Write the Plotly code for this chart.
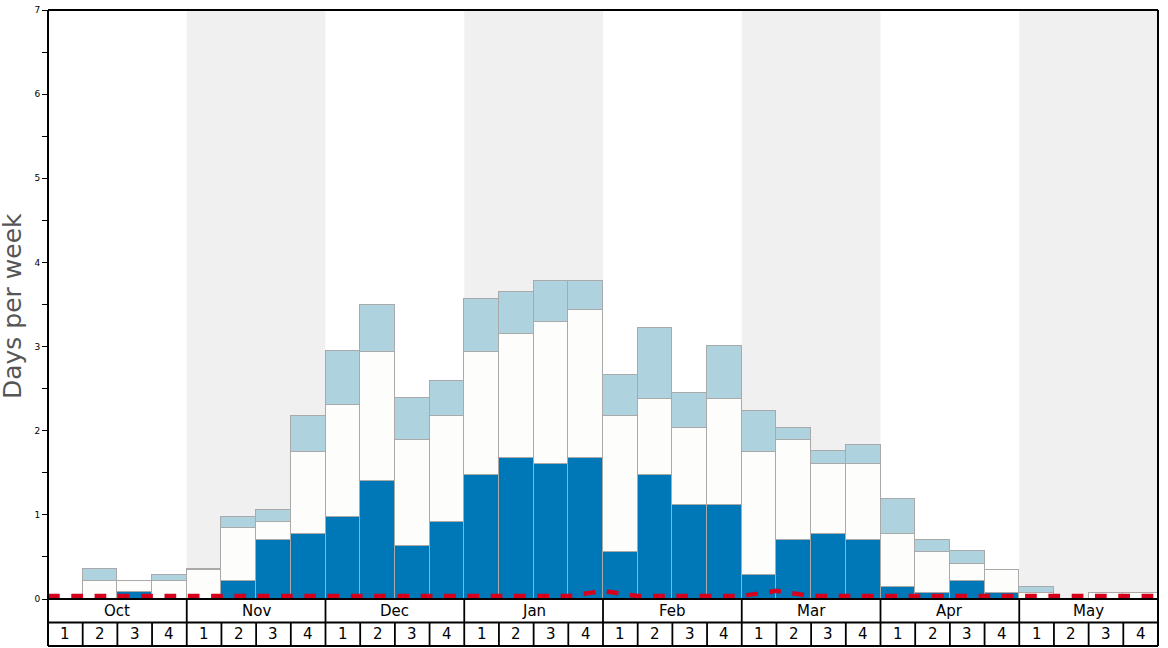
import plotly.graph_objects as go

months = ["Oct", "Nov", "Dec", "Jan", "Feb", "Mar", "Apr", "May"]
week_labels = ["1", "2", "3", "4"]

# top of dark-blue segment (days per week)
dark_top = [0, 0, 0.08, 0,
            0, 0.21, 0.70, 0.77,
            0.98, 1.40, 0.63, 0.91,
            1.47, 1.68, 1.61, 1.68,
            0.56, 1.47, 1.12, 1.12,
            0.285, 0.70, 0.77, 0.70,
            0.14, 0.07, 0.21, 0.07,
            0, 0, 0, 0]
# top of white segment
white_top = [0, 0.21, 0.21, 0.21,
             0.35, 0.84, 0.91, 1.75,
             2.31, 2.94, 1.89, 2.17,
             2.94, 3.15, 3.29, 3.43,
             2.175, 2.38, 2.03, 2.38,
             1.75, 1.886, 1.61, 1.61,
             0.77, 0.56, 0.42, 0.35,
             0.07, 0, 0.07, 0.07]
# top of light-blue segment
light_top = [0, 0.355, 0.21, 0.285,
             0.355, 0.98, 1.06, 2.17,
             2.95, 3.50, 2.385, 2.59,
             3.57, 3.645, 3.78, 3.78,
             2.66, 3.22, 2.45, 3.01,
             2.24, 2.03, 1.755, 1.83,
             1.19, 0.70, 0.57, 0.35,
             0.14, 0, 0.07, 0.07]
# red dashed reference line, at week boundaries (33 points)
ref_line = [0.035] * 33
ref_line[16] = 0.095
ref_line[21] = 0.097

n = len(dark_top)
xc = [i + 0.5 for i in range(n)]
seg_dark = dark_top
seg_white = [max(w - d, 0) for w, d in zip(white_top, dark_top)]
seg_light = [max(l - w, 0) for l, w in zip(light_top, white_top)]

outline = dict(color="#a9a9a9", width=1.5)
fig = go.Figure()
fig.add_trace(go.Bar(x=xc, y=seg_dark, width=1, marker=dict(color="#0077b6", line=outline), hoverinfo="skip"))
fig.add_trace(go.Bar(x=xc, y=seg_white, width=1, marker=dict(color="#fdfdfb", line=outline), hoverinfo="skip"))
fig.add_trace(go.Bar(x=xc, y=seg_light, width=1, marker=dict(color="#aed3df", line=outline), hoverinfo="skip"))
fig.add_trace(go.Scatter(x=list(range(n + 1)), y=ref_line, mode="lines",
                         line=dict(color="#d6001c", width=4.5, dash="11.7px,11.6px"),
                         hoverinfo="skip"))

shapes = []
# alternating month background bands
for m in range(len(months)):
    if m % 2 == 1:
        shapes.append(dict(type="rect", xref="x", yref="paper", x0=m * 4, x1=m * 4 + 4, y0=0, y1=1,
                           fillcolor="#f0f0f0", line=dict(width=0), layer="below"))

row1 = -0.0399
row2 = -0.0798
blk = dict(color="black", width=2)
tbl = dict(color="black", width=1.8)
# frame
shapes.append(dict(type="line", xref="paper", yref="paper", x0=0, x1=1, y0=1, y1=1, line=blk))
shapes.append(dict(type="line", xref="paper", yref="paper", x0=0, x1=0, y0=1, y1=row2, line=blk))
shapes.append(dict(type="line", xref="paper", yref="paper", x0=1, x1=1, y0=1, y1=row2, line=blk))
shapes.append(dict(type="line", xref="paper", yref="paper", x0=0, x1=1, y0=0, y1=0, line=blk))
shapes.append(dict(type="line", xref="paper", yref="paper", x0=0, x1=1, y0=row1, y1=row1, line=tbl))
shapes.append(dict(type="line", xref="paper", yref="paper", x0=0, x1=1, y0=row2, y1=row2, line=blk))
for m in range(1, len(months)):
    shapes.append(dict(type="line", xref="x", yref="paper", x0=m * 4, x1=m * 4, y0=0, y1=row2, line=tbl))
for i in range(1, n):
    if i % 4 != 0:
        shapes.append(dict(type="line", xref="x", yref="paper", x0=i, x1=i, y0=row1, y1=row2, line=tbl))

annotations = []
for m, name in enumerate(months):
    annotations.append(dict(x=m * 4 + 2, y=(0 + row1) / 2, xref="x", yref="paper", text=name,
                            showarrow=False, yanchor="middle",
                            font=dict(family="DejaVu Sans", size=15, color="black")))
for i in range(n):
    annotations.append(dict(x=i + 0.5, y=(row1 + row2) / 2, xref="x", yref="paper",
                            text=week_labels[i % 4], showarrow=False, yanchor="middle",
                            font=dict(family="DejaVu Sans", size=15, color="black")))
annotations.append(dict(x=0, y=0.5, xref="paper", yref="paper", xshift=-36, yshift=-1.5,
                        text="Days per week",
                        textangle=-90, showarrow=False, xanchor="center", yanchor="middle",
                        font=dict(family="DejaVu Sans", size=25, color="#555555")))

fig.update_layout(
    width=1168, height=648,
    margin=dict(l=48, r=10, t=10, b=49, pad=0, autoexpand=False),
    barmode="stack", bargap=0,
    showlegend=False,
    plot_bgcolor="white", paper_bgcolor="white",
    shapes=shapes, annotations=annotations,
    xaxis=dict(range=[0, n], showticklabels=False, showgrid=False, zeroline=False,
               ticks="", showline=False, fixedrange=True, automargin=False),
    yaxis=dict(range=[0, 7], dtick=1, tick0=0, showgrid=False, zeroline=False, showline=False,
               automargin=False,
               ticks="outside", ticklen=5, tickwidth=1, tickcolor="black",
               minor=dict(dtick=0.5, ticks="outside", ticklen=5, tickwidth=1, tickcolor="black"),
               tickfont=dict(family="DejaVu Sans", size=9, color="black")),
)

fig.write_html("out.html", config={"displayModeBar": False})

with open("out.html", "r", encoding="utf-8") as f:
    html = f.read()
html = html.replace("<head>", "<head><style>html,body{margin:0;padding:0;overflow:hidden;}</style>", 1)
with open("out.html", "w", encoding="utf-8") as f:
    f.write(html)
